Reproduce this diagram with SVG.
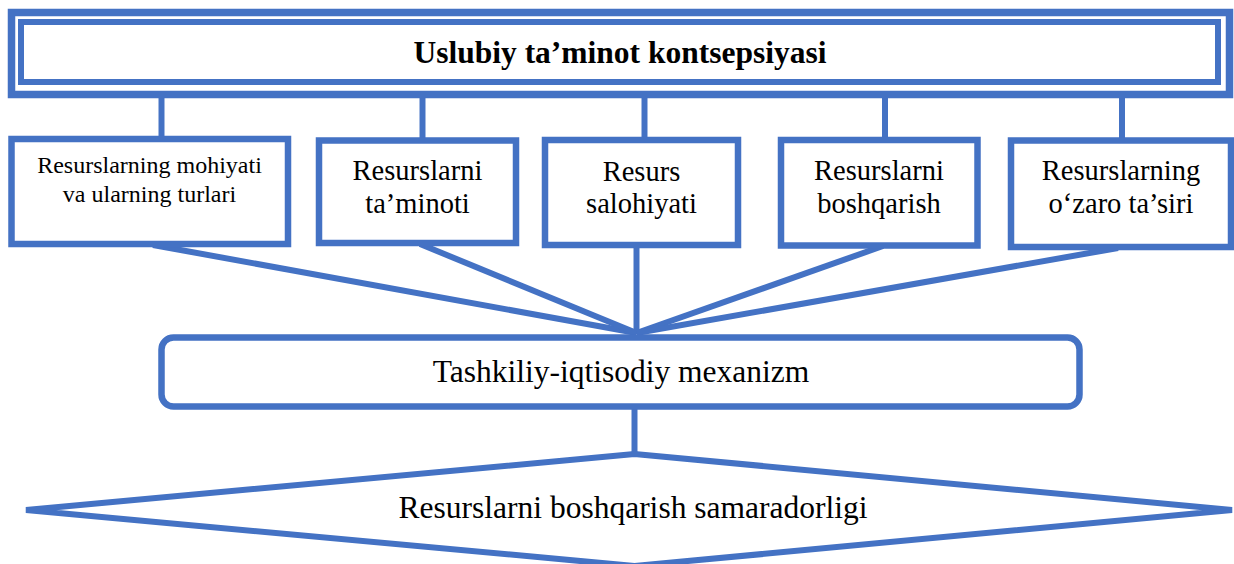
<svg xmlns="http://www.w3.org/2000/svg" width="1234" height="564" viewBox="0 0 1234 564">
<style>
.ln{stroke:#4472C4;stroke-width:6;fill:none}
.bx{stroke:#4472C4;stroke-width:6.5;fill:#fff}
.t{font-family:"Liberation Serif","Times New Roman",serif;fill:#000;text-anchor:middle}
.tb{font-size:28.5px}
</style>
<rect width="1234" height="564" fill="#fff"/>
<g id="connectors">
<line class="ln" x1="161.5" y1="96" x2="161.5" y2="139"/>
<line class="ln" x1="422.5" y1="96" x2="422.5" y2="140"/>
<line class="ln" x1="644.5" y1="96" x2="644.5" y2="140"/>
<line class="ln" x1="885" y1="96" x2="885" y2="140"/>
<line class="ln" x1="1122" y1="96" x2="1122" y2="140"/>
<line class="ln" x1="153" y1="245" x2="636.5" y2="333"/>
<line class="ln" x1="420" y1="244" x2="636.5" y2="333"/>
<line class="ln" x1="636.5" y1="245" x2="636.5" y2="334"/>
<line class="ln" x1="883" y1="246" x2="636.5" y2="333"/>
<line class="ln" x1="1118" y1="248" x2="636.5" y2="333"/>
<line class="ln" x1="634.5" y1="408" x2="634.5" y2="454"/>
</g>
<g id="title">
<rect x="11.5" y="12.5" width="1218" height="82" fill="#fff" stroke="#4472C4" stroke-width="7.5"/>
<rect x="21" y="22" width="1197" height="60" fill="#fff" stroke="#4472C4" stroke-width="6"/>
<text class="t" x="620" y="63" font-size="31.5" font-weight="bold">Uslubiy ta’minot kontsepsiyasi</text>
</g>
<g id="box1">
<rect class="bx" x="11.5" y="139" width="276.5" height="105"/>
<text class="t" x="149.5" y="173.3" font-size="24">Resurslarning mohiyati</text>
<text class="t" x="149.5" y="201.7" font-size="24">va ularning turlari</text>
</g>
<g id="box2">
<rect class="bx" x="319" y="140.5" width="197" height="102.5"/>
<text class="t tb" x="417.5" y="180">Resurslarni</text>
<text class="t tb" x="417.5" y="213">ta’minoti</text>
</g>
<g id="box3">
<rect class="bx" x="545" y="140" width="193" height="105"/>
<text class="t tb" x="641.5" y="181">Resurs</text>
<text class="t tb" x="641.5" y="213">salohiyati</text>
</g>
<g id="box4">
<rect class="bx" x="781" y="140" width="196.5" height="105.5"/>
<text class="t tb" x="879" y="180">Resurslarni</text>
<text class="t tb" x="879" y="213">boshqarish</text>
</g>
<g id="box5">
<rect class="bx" x="1011" y="140.5" width="220" height="106.5"/>
<text class="t tb" x="1121" y="180">Resurslarning</text>
<text class="t tb" x="1121" y="213">o‘zaro ta’siri</text>
</g>
<g id="mechanism">
<rect class="bx" x="161.5" y="337.5" width="918" height="69" rx="12" ry="12"/>
<text class="t" x="621" y="381.7" font-size="31.5">Tashkiliy-iqtisodiy mexanizm</text>
</g>
<g id="efficiency">
<polygon points="634.5,454 1232,510 634.5,566 26,510" fill="#fff" stroke="#4472C4" stroke-width="6" stroke-linejoin="bevel"/>
<text class="t" x="633" y="518.3" font-size="31.5">Resurslarni boshqarish samaradorligi</text>
</g>
</svg>
